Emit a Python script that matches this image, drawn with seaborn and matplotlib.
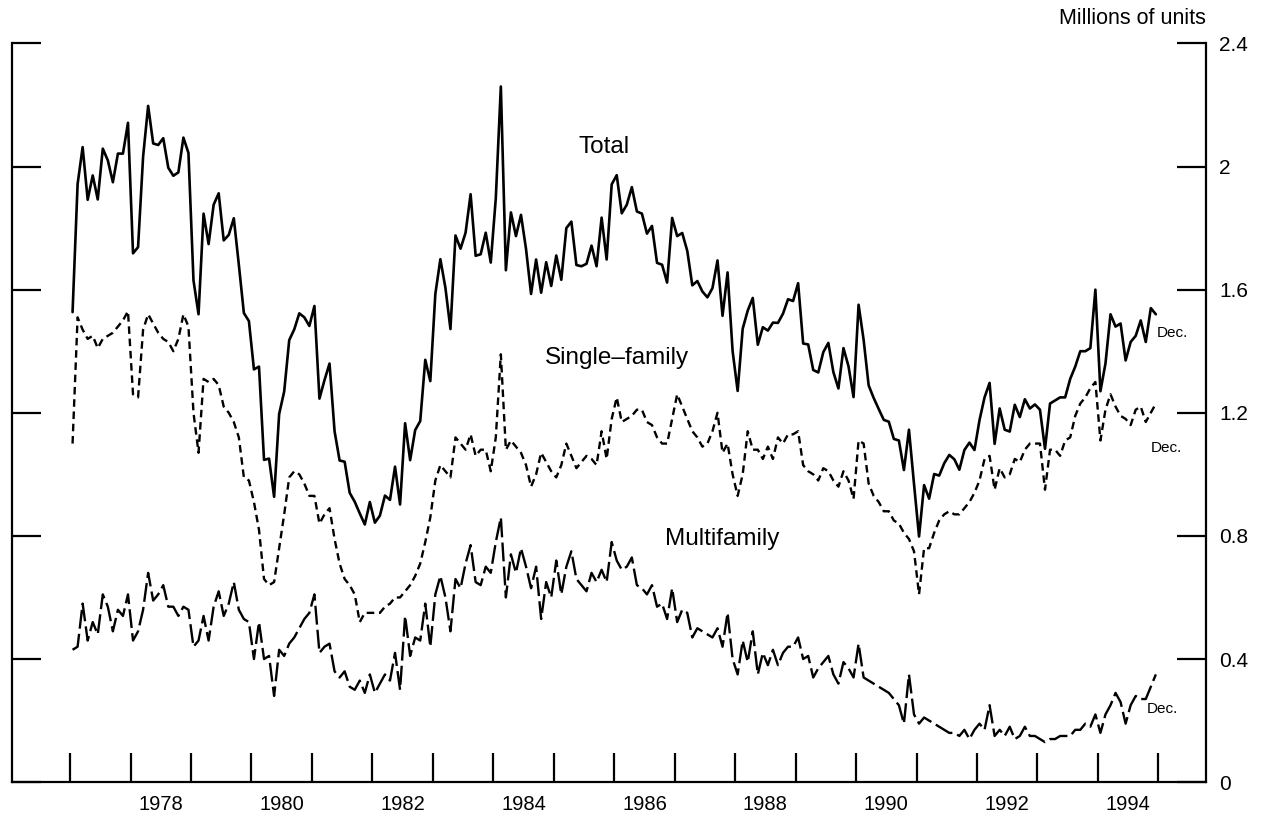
import numpy as np
import matplotlib
matplotlib.use('Agg')
import matplotlib.pyplot as plt
import seaborn as sns

###############################################################################

years = list(range(1977, 1995))

# monthly values, millions of units (annual rate), Jan..Dec for each year
total = [
    1.527, 1.943, 2.063, 1.892, 1.971, 1.893, 2.058, 2.020, 1.949, 2.042, 2.042, 2.142,
    1.718, 1.738, 2.032, 2.197, 2.075, 2.070, 2.092, 1.996, 1.970, 1.981, 2.094, 2.044,
    1.630, 1.520, 1.847, 1.748, 1.876, 1.913, 1.760, 1.778, 1.832, 1.681, 1.524, 1.498,
    1.341, 1.350, 1.047, 1.051, 0.927, 1.196, 1.269, 1.436, 1.471, 1.523, 1.510, 1.482,
    1.547, 1.246, 1.306, 1.360, 1.140, 1.045, 1.041, 0.940, 0.911, 0.873, 0.837, 0.910,
    0.843, 0.866, 0.931, 0.917, 1.025, 0.902, 1.166, 1.046, 1.144, 1.173, 1.372, 1.303,
    1.586, 1.699, 1.606, 1.472, 1.776, 1.733, 1.785, 1.910, 1.710, 1.715, 1.785, 1.688,
    1.897, 2.260, 1.663, 1.851, 1.774, 1.843, 1.732, 1.586, 1.698, 1.590, 1.689, 1.612,
    1.711, 1.632, 1.800, 1.821, 1.680, 1.676, 1.684, 1.743, 1.676, 1.834, 1.698, 1.942,
    1.972, 1.848, 1.876, 1.933, 1.854, 1.847, 1.782, 1.807, 1.687, 1.681, 1.623, 1.833,
    1.774, 1.784, 1.726, 1.614, 1.628, 1.594, 1.575, 1.605, 1.695, 1.515, 1.656, 1.400,
    1.271, 1.473, 1.532, 1.573, 1.421, 1.478, 1.467, 1.493, 1.492, 1.522, 1.569, 1.563,
    1.621, 1.425, 1.422, 1.339, 1.331, 1.397, 1.427, 1.332, 1.279, 1.410, 1.351, 1.251,
    1.551, 1.437, 1.289, 1.248, 1.212, 1.177, 1.171, 1.115, 1.110, 1.014, 1.145, 0.969,
    0.798, 0.965, 0.921, 1.001, 0.996, 1.036, 1.063, 1.049, 1.015, 1.079, 1.103, 1.079,
    1.176, 1.250, 1.297, 1.099, 1.214, 1.145, 1.139, 1.226, 1.186, 1.244, 1.214, 1.227,
    1.210, 1.083, 1.230, 1.240, 1.250, 1.250, 1.310, 1.350, 1.400, 1.400, 1.410, 1.600,
    1.270, 1.360, 1.520, 1.480, 1.490, 1.370, 1.430, 1.450, 1.500, 1.430, 1.540, 1.520,
]

single_family = [
    1.10, 1.51, 1.47, 1.44, 1.45, 1.41, 1.44, 1.45, 1.46, 1.48, 1.50, 1.53,
    1.26, 1.25, 1.47, 1.52, 1.49, 1.46, 1.44, 1.43, 1.40, 1.44, 1.52, 1.48,
    1.20, 1.07, 1.31, 1.30, 1.31, 1.29, 1.22, 1.20, 1.17, 1.12, 0.99, 0.98,
    0.91, 0.82, 0.66, 0.64, 0.65, 0.76, 0.87, 0.99, 1.01, 1.00, 0.97, 0.93,
    0.93, 0.84, 0.87, 0.89, 0.79, 0.71, 0.66, 0.64, 0.61, 0.52, 0.55, 0.55,
    0.55, 0.55, 0.57, 0.58, 0.60, 0.60, 0.62, 0.64, 0.67, 0.71, 0.78, 0.86,
    0.98, 1.03, 1.01, 0.99, 1.12, 1.10, 1.08, 1.13, 1.06, 1.08, 1.08, 1.01,
    1.12, 1.39, 1.08, 1.11, 1.09, 1.07, 1.03, 0.96, 1.00, 1.07, 1.04, 1.01,
    0.99, 1.03, 1.10, 1.06, 1.02, 1.04, 1.06, 1.05, 1.03, 1.14, 1.05, 1.18,
    1.25, 1.17, 1.18, 1.19, 1.21, 1.21, 1.17, 1.16, 1.12, 1.10, 1.10, 1.18,
    1.26, 1.22, 1.18, 1.14, 1.12, 1.09, 1.10, 1.14, 1.20, 1.07, 1.10, 1.00,
    0.93, 1.00, 1.14, 1.08, 1.08, 1.05, 1.09, 1.05, 1.12, 1.10, 1.13, 1.13,
    1.14, 1.03, 1.01, 1.00, 0.98, 1.02, 1.01, 0.98, 0.96, 1.01, 0.98, 0.92,
    1.11, 1.10, 0.97, 0.93, 0.91, 0.88, 0.88, 0.85, 0.84, 0.81, 0.79, 0.75,
    0.61, 0.76, 0.76, 0.81, 0.85, 0.87, 0.88, 0.87, 0.87, 0.89, 0.91, 0.94,
    0.98, 1.05, 1.06, 0.95, 1.02, 0.99, 1.00, 1.05, 1.04, 1.08, 1.10, 1.10,
    1.10, 0.95, 1.08, 1.08, 1.06, 1.11, 1.12, 1.19, 1.23, 1.25, 1.28, 1.30,
    1.11, 1.21, 1.26, 1.22, 1.19, 1.18, 1.16, 1.21, 1.22, 1.17, 1.20, 1.23,
]

multifamily = [
    0.43, 0.44, 0.58, 0.46, 0.52, 0.48, 0.61, 0.57, 0.49, 0.56, 0.54, 0.61,
    0.46, 0.49, 0.56, 0.68, 0.59, 0.61, 0.64, 0.57, 0.57, 0.54, 0.57, 0.56,
    0.44, 0.46, 0.54, 0.46, 0.57, 0.62, 0.54, 0.58, 0.65, 0.56, 0.53, 0.52,
    0.40, 0.52, 0.40, 0.41, 0.28, 0.43, 0.41, 0.45, 0.47, 0.50, 0.53, 0.55,
    0.61, 0.42, 0.44, 0.45, 0.36, 0.34, 0.36, 0.31, 0.30, 0.33, 0.29, 0.35,
    0.29, 0.32, 0.35, 0.33, 0.42, 0.30, 0.54, 0.41, 0.47, 0.46, 0.58, 0.44,
    0.61, 0.67, 0.60, 0.49, 0.66, 0.63, 0.71, 0.77, 0.65, 0.64, 0.70, 0.68,
    0.78, 0.86, 0.60, 0.74, 0.68, 0.76, 0.70, 0.63, 0.70, 0.53, 0.65, 0.60,
    0.72, 0.61, 0.70, 0.75, 0.66, 0.64, 0.62, 0.68, 0.65, 0.69, 0.65, 0.78,
    0.72, 0.69, 0.70, 0.73, 0.64, 0.63, 0.61, 0.64, 0.57, 0.58, 0.53, 0.63,
    0.52, 0.56, 0.55, 0.47, 0.50, 0.49, 0.48, 0.47, 0.50, 0.44, 0.55, 0.40,
    0.35, 0.46, 0.39, 0.49, 0.35, 0.42, 0.38, 0.43, 0.38, 0.42, 0.44, 0.44,
    0.47, 0.40, 0.41, 0.34, 0.37, 0.39, 0.41, 0.35, 0.32, 0.39, 0.37, 0.34,
    0.45, 0.34, 0.33, 0.32, 0.31, 0.30, 0.29, 0.27, 0.25, 0.19, 0.35, 0.22,
    0.19, 0.21, 0.20, 0.19, 0.18, 0.17, 0.16, 0.16, 0.15, 0.17, 0.14, 0.17,
    0.19, 0.17, 0.25, 0.15, 0.17, 0.15, 0.18, 0.14, 0.15, 0.18, 0.15, 0.15,
    0.14, 0.13, 0.14, 0.14, 0.15, 0.15, 0.15, 0.17, 0.17, 0.19, 0.18, 0.22,
    0.16, 0.22, 0.25, 0.29, 0.26, 0.19, 0.25, 0.28, 0.27, 0.27, 0.31, 0.35,
]

y_ticks = [0, 0.4, 0.8, 1.2, 1.6, 2, 2.4]
y_tick_labels = ['0', '0.4', '0.8', '1.2', '1.6', '2', '2.4']
year_labels = [1978, 1980, 1982, 1984, 1986, 1988, 1990, 1992, 1994]

###############################################################################

if __name__ == "__main__":

    t = np.array([y + (m + 0.5) / 12.0 for y in years for m in range(12)])

    sns.set_style('white')
    plt.rcParams['font.family'] = ['Liberation Sans', 'DejaVu Sans']
    plt.rcParams['text.color'] = 'black'
    plt.rcParams['xtick.color'] = 'black'
    plt.rcParams['ytick.color'] = 'black'
    plt.rcParams['axes.labelcolor'] = 'black'

    fig = plt.figure(figsize=(12.63, 8.19), dpi=100)
    ax = fig.add_axes([0.0095, 0.045, 0.945, 0.902])

    sns.lineplot(x=t, y=total, ax=ax, color='black', linewidth=1.9)
    sns.lineplot(x=t, y=single_family, ax=ax, color='black', linewidth=1.7,
                 linestyle=(0, (3.2, 2.0)))
    sns.lineplot(x=t, y=multifamily, ax=ax, color='black', linewidth=1.7,
                 linestyle=(0, (8.0, 2.2)))

    ax.set_xlim(1976.04, 1995.78)
    ax.set_ylim(0, 2.4)

    # year boundaries as inward ticks, labels centred in the even years
    ax.set_xticks(list(range(1977, 1996)))
    ax.set_xticklabels([])
    ax.set_xticks([y + 0.5 for y in year_labels], minor=True)
    ax.set_xticklabels([str(y) for y in year_labels], minor=True,
                       fontsize=14.5, color='black')
    ax.tick_params(axis='x', which='major', direction='in', length=21,
                   width=1.6, bottom=True, top=False, color='black')
    ax.tick_params(axis='x', which='minor', length=0, pad=9)

    ax.set_yticks(y_ticks)
    ax.set_yticklabels(y_tick_labels, fontsize=15, color='black')
    ax.tick_params(axis='y', which='major', direction='in', length=21,
                   width=1.6, left=True, right=True, color='black',
                   labelleft=False, labelright=True, pad=10)

    for side in ['left', 'right', 'bottom']:
        ax.spines[side].set_linewidth(1.6)
        ax.spines[side].set_color('black')
    ax.spines['top'].set_visible(False)

    ax.text(1985.84, 2.065, 'Total', ha='center', va='center', fontsize=17.5,
            color='black')
    ax.text(1986.04, 1.379, 'Single\u2013family', ha='center', va='center',
            fontsize=17.5, color='black')
    ax.text(1987.79, 0.79, 'Multifamily', ha='center', va='center',
            fontsize=17.5, color='black')

    ax.text(1994.98, 1.46, 'Dec.', ha='left', va='center', fontsize=11,
            color='black')
    ax.text(1994.88, 1.087, 'Dec.', ha='left', va='center', fontsize=11,
            color='black')
    ax.text(1994.80, 0.239, 'Dec.', ha='left', va='center', fontsize=11,
            color='black')

    fig.text(0.955, 0.978, 'Millions of units', ha='right', va='center',
             fontsize=15.5, color='black')

    fig.savefig('out.png', dpi=100, facecolor='white')
